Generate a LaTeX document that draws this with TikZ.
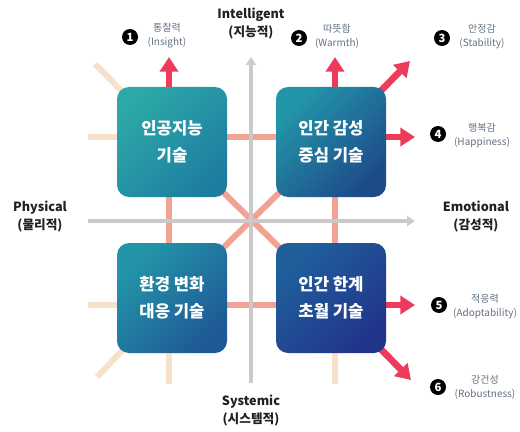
\documentclass[tikz,border=0pt]{standalone}
\usepackage{fontspec}
\setmainfont{Noto Sans CJK KR}
\usetikzlibrary{arrows.meta,backgrounds,positioning}

\definecolor{arrowred}{RGB}{238,59,91}
\definecolor{linksalmon}{RGB}{242,162,146}
\definecolor{linkbeige}{RGB}{246,226,200}
\definecolor{axisgrey}{RGB}{202,202,202}
\definecolor{tagblue}{RGB}{98,112,130}
\definecolor{labelblack}{RGB}{35,31,32}
\definecolor{tealA}{RGB}{44,168,168}
\definecolor{tealB}{RGB}{30,126,160}
\definecolor{blueA}{RGB}{34,150,168}
\definecolor{blueB}{RGB}{30,74,138}
\definecolor{blueC}{RGB}{31,88,150}
\definecolor{navyA}{RGB}{31,96,156}
\definecolor{navyB}{RGB}{34,52,138}

\begin{document}
\begin{tikzpicture}
  [x=0.75pt, y=-0.75pt,
   box/.style 2 args={rectangle, rounded corners=9pt, minimum size=82.5pt,
     text=white, align=center, font=\fontsize{12.5}{20}\selectfont\bfseries,
     top color=#1, bottom color=#2, shading angle=45},
   axislabel/.style={align=center, text=labelblack,
     font=\fontsize{9.5}{13.5}\selectfont\bfseries},
   num/.style={circle, fill=black, text=white, inner sep=0pt, minimum size=12pt,
     font=\fontsize{8.5}{10}\selectfont\bfseries},
   tag/.style={align=center, text=tagblue, font=\fontsize{7.5}{10.5}\selectfont},
   axis/.style={draw=axisgrey, line width=2.5pt, -{Triangle[width=7.5pt,length=6pt]}},
   outward/.style={draw=arrowred, line width=5pt, -{Triangle[width=13.5pt,length=11pt]}},
   link/.style={draw=linksalmon, line width=4.5pt},
   faint/.style={draw=linkbeige, line width=4.5pt}]
\useasboundingbox (0,0) rectangle (520,431); % whole page
%
\node at (172,142) (ai)     [box={tealA}{tealB}] {인공지능\\기술};
\node at (331,142) (emo)    [box={blueA}{blueB}] {인간 감성\\중심 기술};
\node at (172,298) (env)    [box={blueA}{blueC}] {환경 변화\\대응 기술};
\node at (331,298) (beyond) [box={navyA}{navyB}] {인간 한계\\초월 기술};
%
\node at (251,24)  (north label) [axislabel] {Intelligent\\(지능적)};
\node at (40,217)  (west label)  [axislabel] {Physical\\(물리적)};
\node at (476,217) (east label)  [axislabel] {Emotional\\(감성적)};
\node at (251,411) (south label) [axislabel] {Systemic\\(시스템적)};
%
\node at (130,37)  (n1) [num] {1};
\node at (167,36)  (t1) [tag] {통찰력\\(Insight)};
\node at (299,38)  (n2) [num] {2};
\node at (337,36)  (t2) [tag] {따뜻함\\(Warmth)};
\node at (442,38)  (n3) [num] {3};
\node at (482,37)  (t3) [tag] {안정감\\(Stability)};
\node at (438,134) (n4) [num] {4};
\node at (482,136) (t4) [tag] {행복감\\(Happiness)};
\node at (439,305) (n5) [num] {5};
\node at (485,307) (t5) [tag] {적응력\\(Adoptability)};
\node at (438,387) (n6) [num] {6};
\node at (485,387) (t6) [tag] {강건성\\(Robustness)};
%
% grid of links running under the boxes
\coordinate (c)  at (251,221);
\coordinate (q1) at (169,137);
\coordinate (q2) at (335,137);
\coordinate (q3) at (169,305);
\coordinate (q4) at (335,305);
%
\coordinate (w1) at (88,137);
\coordinate (w2) at (88,305);
\coordinate (s1) at (169,384);
\coordinate (s2) at (335,384);
\coordinate (nw) at (95,64);
\coordinate (sw) at (97,377);
%
\coordinate (insight)   at (169,57);
\coordinate (warmth)    at (335,57);
\coordinate (stability) at (410,61);
\coordinate (happiness) at (415,137);
\coordinate (adopt)     at (415,305);
\coordinate (robust)    at (411,380);
%
\coordinate (ax west)  at (88,221);
\coordinate (ax east)  at (415,221);
\coordinate (ax south) at (251,383);
\coordinate (ax north) at (251,57);
%
\begin{scope}[on background layer]
\draw [faint] (q1) -- (w1);
\draw [faint] (q3) -- (w2);
\draw [faint] (q3) -- (s1);
\draw [faint] (q4) -- (s2);
\draw [faint] (ai.center) -- (nw);
\draw [faint] (env.center) -- (sw);
%
\draw [link] (q1) -- (q2);
\draw [link] (q3) -- (q4);
\draw [link] (q1) -- (q3);
\draw [link] (q2) -- (q4);
\draw [link] (ai.center) -- (beyond.center);
\draw [link] (emo.center) -- (env.center);
%
\draw [axis] (ax west) -- (ax east);
\draw [axis] (ax south) -- (ax north);
%
\draw [outward] (q1) -- (insight);
\draw [outward] (q2) -- (warmth);
\draw [outward] (emo.center) -- (stability);
\draw [outward] (q2) -- (happiness);
\draw [outward] (q4) -- (adopt);
\draw [outward] (beyond.center) -- (robust);
\end{scope}
\end{tikzpicture}
\end{document}
